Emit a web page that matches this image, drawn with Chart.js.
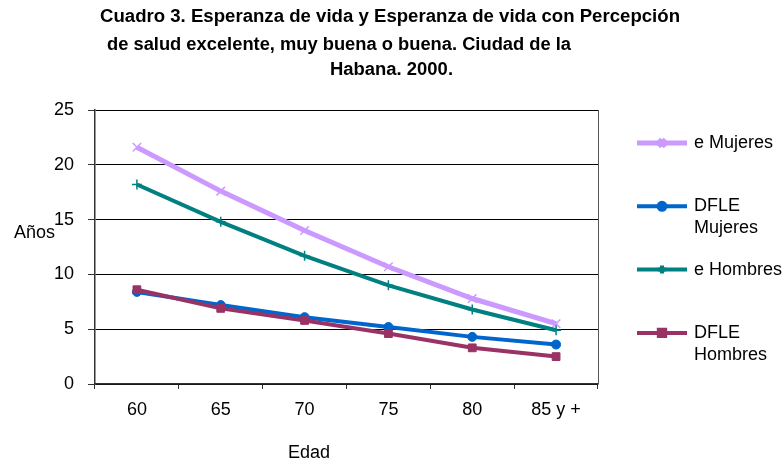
<!DOCTYPE html>
<html>
<head>
<meta charset="utf-8">
<script src="https://cdn.jsdelivr.net/npm/chart.js@4.4.0/dist/chart.umd.min.js"></script>
<style>
html, body { margin: 0; padding: 0; background: #fff; }
#wrap { width: 783px; height: 461px; }
</style>
</head>
<body>
<div id="wrap"><canvas id="chart"></canvas></div>
<script>
// datos
var edades = ['60', '65', '70', '75', '80', '85 y +'];
var eMujeres = [21.6, 17.6, 14.0, 10.7, 7.8, 5.5];
var dfleMujeres = [8.4, 7.2, 6.1, 5.2, 4.3, 3.6];
var eHombres = [18.2, 14.8, 11.7, 9.0, 6.8, 4.9];
var dfleHombres = [8.6, 6.9, 5.8, 4.6, 3.3, 2.5];
var series = ['e Mujeres', 'DFLE Mujeres', 'e Hombres', 'DFLE Hombres'];
var titulo = ['Cuadro 3. Esperanza de vida y Esperanza de vida con Percepción',
              'de salud excelente, muy buena o buena. Ciudad de la',
              'Habana. 2000.'];
var ejeX = 'Edad';
var ejeY = 'Años';

var FONT = '"Liberation Sans", Arial, sans-serif';

// titulo, leyenda, rotulos de ejes y borde derecho
var extras = {
  id: 'extras',
  afterDraw: function(chart) {
    var ctx = chart.ctx;
    var area = chart.chartArea;
    ctx.save();

    // borde derecho
    ctx.strokeStyle = '#555';
    ctx.lineWidth = 1;
    ctx.beginPath();
    ctx.moveTo(area.right + 0.5, area.top);
    ctx.lineTo(area.right + 0.5, area.bottom);
    ctx.stroke();

    // titulo (3 lineas, ajustadas al ancho del original)
    var pos = [[100, 17, 580], [107, 45, 464], [330, 70, 123]];
    ctx.fillStyle = '#000';
    ctx.font = 'bold 18px ' + FONT;
    ctx.textBaseline = 'middle';
    ctx.textAlign = 'left';
    for (var i = 0; i < titulo.length; i++) {
      var w = ctx.measureText(titulo[i]).width;
      ctx.save();
      ctx.translate(pos[i][0], pos[i][1]);
      ctx.scale(pos[i][2] / w, 1);
      ctx.fillText(titulo[i], 0, 0);
      ctx.restore();
    }

    // rotulos de ejes
    ctx.font = '18px ' + FONT;
    ctx.fillText(ejeY, 14, 233);
    ctx.textAlign = 'center';
    ctx.fillText(ejeX, 309, 453);

    // leyenda
    ctx.textAlign = 'left';
    var ds = chart.data.datasets;
    for (var j = 0; j < ds.length; j++) {
      var y = 143 + j * 63.3;
      ctx.strokeStyle = ds[j].borderColor;
      ctx.lineWidth = ds[j].borderWidth;
      ctx.beginPath();
      ctx.moveTo(637, y);
      ctx.lineTo(687, y);
      ctx.stroke();
      ctx.fillStyle = ds[j].borderColor;
      ctx.strokeStyle = ds[j].borderColor;
      Chart.helpers.drawPoint(ctx, {
        pointStyle: ds[j].pointStyle,
        radius: ds[j].pointRadius - 1,
        borderWidth: ds[j].pointBorderWidth,
        rotation: 0
      }, 662, y);

      // partir el texto en lineas
      var words = ds[j].label.split(' ');
      var lines = [];
      var cur = '';
      for (var k = 0; k < words.length; k++) {
        var t = cur ? cur + ' ' + words[k] : words[k];
        if (cur && ctx.measureText(t).width > 95) {
          lines.push(cur);
          cur = words[k];
        } else {
          cur = t;
        }
      }
      lines.push(cur);
      ctx.fillStyle = '#000';
      for (var m = 0; m < lines.length; m++) {
        ctx.fillText(lines[m], 694, y + m * 22);
      }
    }
    ctx.restore();
  }
};

new Chart(document.getElementById('chart'), {
  type: 'line',
  data: {
    labels: edades,
    datasets: [
      {
        label: series[0],
        data: eMujeres,
        borderColor: '#CC99FF',
        backgroundColor: '#CC99FF',
        borderWidth: 5,
        pointStyle: 'crossRot',
        pointRadius: 6,
        pointBorderWidth: 1.5,
        order: 4
      },
      {
        label: series[1],
        data: dfleMujeres,
        borderColor: '#0066CC',
        backgroundColor: '#0066CC',
        borderWidth: 4,
        pointStyle: 'circle',
        pointRadius: 4.5,
        pointBorderWidth: 1,
        order: 3
      },
      {
        label: series[2],
        data: eHombres,
        borderColor: '#008080',
        backgroundColor: '#008080',
        borderWidth: 4,
        pointStyle: 'cross',
        pointRadius: 5,
        pointBorderWidth: 1.5,
        order: 2
      },
      {
        label: series[3],
        data: dfleHombres,
        borderColor: '#993366',
        backgroundColor: '#993366',
        borderWidth: 4,
        pointStyle: 'rect',
        pointRadius: 5.5,
        pointBorderWidth: 1,
        order: 1
      }
    ]
  },
  options: {
    responsive: true,
    maintainAspectRatio: false,
    animation: false,
    layout: { padding: { top: 110, right: 185, left: 0, bottom: 0 } },
    plugins: {
      legend: { display: false },
      title: { display: false },
      tooltip: { enabled: false }
    },
    scales: {
      x: {
        offset: true,
        grid: { offset: true, drawOnChartArea: false, tickLength: 5, color: '#333' },
        border: { color: '#333', width: 1.5 },
        ticks: { font: { family: FONT, size: 18 }, color: '#000', padding: 10, maxRotation: 0 },
        afterFit: function(s) { s.height = 77; }
      },
      y: {
        min: 0,
        max: 25,
        grid: { color: '#000', lineWidth: 1, tickLength: 7, tickColor: '#333' },
        border: { color: '#333', width: 1.5 },
        ticks: { stepSize: 5, font: { family: FONT, size: 18 }, color: '#000', padding: 14 },
        afterFit: function(s) { s.width = 95; }
      }
    }
  },
  plugins: [extras]
});
</script>
</body>
</html>
